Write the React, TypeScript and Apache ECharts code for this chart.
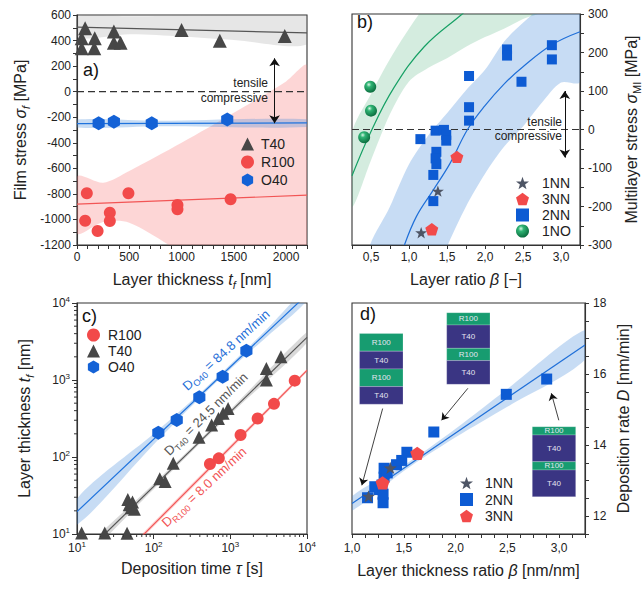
import React, { useEffect, useRef } from "react";
import * as echarts from "echarts";

const FONT = '"Liberation Sans", Arial, Helvetica, sans-serif';
const INK = "#222";
const AXIS = "#333";

// marker outlines
const HEX = "path://M0,-10L8.66,-5L8.66,5L0,10L-8.66,5L-8.66,-5Z";
const STAR =
  "path://M0,-10L2.35,-3.24L9.51,-3.09L3.8,1.24L5.88,8.09L0,4L-5.88,8.09L-3.8,1.24L-9.51,-3.09L-2.35,-3.24Z";
const PENT = "path://M0,-10L9.51,-3.09L5.88,8.09L-5.88,8.09L-9.51,-3.09Z";

// ---------- (a) film stress vs layer thickness ----------
const aT40 = [[45, 418], [45, 340], [78, 496], [170, 418], [165, 340], [353, 470], [353, 383], [417, 383], [1000, 483], [1366, 399], [1987, 436]];
const aR100 = [[94, -795], [78, -1010], [197, -1090], [314, -947], [314, -1012], [492, -795], [961, -887], [961, -920], [1469, -842]];
const aO40 = [[207, -247], [353, -235], [715, -247], [1437, -218]];
const aFitX = [0, 2200];
const aFitT40 = [505, 460];
const aFitR100 = [-880, -810];
const aFitO40 = [-250, -245];
const aBandT40X = [0, 500, 1000, 1500, 2200];
const aBandT40Lo = [425, 450, 432, 405, 370];
const aBandT40Hi = [585, 590, 595, 600, 610];
const aBandR100X = [0, 250, 500, 1000, 1500, 2000, 2200];
const aBandR100Lo = [-1108, -1020, -1025, -1260, -1500, -1800, -1950];
const aBandR100Hi = [-665, -712, -620, -400, -165, 80, 200];
const aBandO40X = [0, 800, 2200];
const aBandO40Lo = [-280, -270, -276];
const aBandO40Hi = [-218, -228, -215];
const aZeroX = [0, 2200];

// ---------- (b) multilayer stress vs layer ratio ----------
const b1NN = [[1.38, -160], [1.16, -268]];
const b3NN = [[1.63, -71], [1.3, -259]];
const b2NN = [[1.15, -25], [1.35, -3], [1.46, -1], [1.49, -14], [1.49, -29], [1.36, -58], [1.35, -75], [1.36, -90], [1.32, -118], [1.32, -186], [1.79, 139], [1.79, 58], [1.79, 23], [2.29, 208], [2.29, 192], [2.48, 124], [2.88, 219], [2.88, 182]];
const b1NO = [[0.49, 111], [0.5, 49], [0.41, -20]];
const bFitNNX = [0.94, 1.1, 1.31, 1.54, 1.77, 2.0, 2.25, 2.5, 2.88, 3.25];
const bFitNNY = [-300, -225, -160, -88, 0, 62, 118, 163, 220, 254];
const bFitNOX = [0.25, 0.5, 0.8, 1.2, 1.7, 1.8];
const bFitNOY = [-120, -5, 108, 215, 300, 318];
const bBandNNX = [0.45, 0.75, 1.0, 1.25, 1.5, 1.75, 2.0, 2.25, 2.5, 2.75, 3.0, 3.25];
const bBandNNLo = [-900, -700, -560, -430, -305, -200, -115, -45, 8, 70, 122, 124];
const bBandNNHi = [-330, -200, -90, -16, 42, 102, 155, 228, 277, 320, 360, 400];
const bBandNOX = [0.25, 0.5, 0.75, 1.0, 1.25, 1.5, 1.75, 2.0, 2.25, 2.5, 2.75];
const bBandNOLo = [-200, -80, 40, 125, 160, 185, 215, 240, 262, 287, 312];
const bBandNOHi = [-10, 92, 183, 262, 330, 380, 430, 480, 520, 560, 600];
const bZeroX = [0.25, 3.25];

// ---------- (c) layer thickness vs deposition time ----------
const rateO40 = 84.8;
const rateT40 = 24.5;
const rateR100 = 8.0;
const cR100 = [[542, 81], [708, 96], [1360, 193], [2270, 316], [3710, 490], [6920, 980]];
const cT40 = [[11.5, 10.3], [23, 10.3], [45, 10.2], [46, 28], [48, 24], [51, 22], [53, 26], [56, 21], [120, 52], [141, 48], [180, 83], [390, 181], [570, 260], [700, 316], [805, 369], [935, 427], [2950, 1000], [2950, 1410], [4570, 2000]];
const cO40 = [[115, 207], [200, 302], [394, 596], [794, 1100], [1620, 2400]];
const cFitX = [10, 10000];
const cFitO40 = [19.5, 12900];
const cFitT40 = [4.46, 3570];
const cFitR100 = [1.33, 1333];
const cBandO40X = [10, 100, 400, 1000, 3000, 10000];
const cBandO40Lo = [13.2, 145, 583, 1380, 3654, 10750];
const cBandO40Hi = [28.8, 200, 670, 1587, 4600, 15480];
const cBandT40X = [10, 100, 1000, 10000];
const cBandT40Lo = [3.9, 38.2, 358, 3050];
const cBandT40Hi = [5.1, 44.9, 412, 4190];
const cBandR100X = [10, 10000];
const cBandR100Lo = [1.27, 1273];
const cBandR100Hi = [1.4, 1396];
const cDecades = [10, 100, 1000];
const cMinorSteps = [2, 3, 4, 5, 6, 7, 8, 9];

// ---------- (d) deposition rate vs layer thickness ratio ----------
const d1NN = [[1.16, 12.56], [1.37, 13.36]];
const d2NN = [[1.15, 12.52], [1.22, 12.83], [1.26, 12.75], [1.3, 12.38], [1.3, 12.62], [1.29, 12.88], [1.31, 13.1], [1.31, 13.35], [1.34, 13.22], [1.43, 13.45], [1.48, 13.57], [1.53, 13.8], [1.79, 14.37], [2.49, 15.43], [2.88, 15.86]];
const d3NN = [[1.295, 12.94], [1.63, 13.77]];
const dFitX = [1.0, 3.25];
const dFitY = [12.36, 16.82];
const dBandX = [1.0, 1.5, 2.0, 2.5, 3.25];
const dBandLo = [12.16, 13.27, 14.22, 15.08, 16.4];
const dBandHi = [12.56, 13.43, 14.46, 15.58, 17.24];
const stackLayers = ["R100", "T40", "R100", "T40"];

const C_T40 = "#474747";
const C_R100 = "#f24a4a";
const C_O40 = "#1462d6";
const C_2NN = "#0d5bd3";
const C_STAR = "#4e5565";
const C_GREEN = "#17a065";
const LAYER_R = "#179c70";
const LAYER_T = "#3a3583";

const SPHERE = {
  type: "radial",
  x: 0.38,
  y: 0.32,
  r: 0.7,
  colorStops: [
    { offset: 0, color: "#d8f5e4" },
    { offset: 0.3, color: "#2fb474" },
    { offset: 1, color: "#0a6b3d" },
  ],
};

const zip = (xs: number[], ys: number[]) => xs.map((x, i) => [x, ys[i]]);

function scatter(name: string, gi: number, data: any, symbol: string, size: any, color: any) {
  return {
    type: "scatter",
    name,
    xAxisIndex: gi,
    yAxisIndex: gi,
    data,
    symbol,
    symbolSize: size,
    symbolKeepAspect: true,
    itemStyle: { color, opacity: 1 },
    z: 5,
    silent: true,
  };
}

function fitLine(name: string, gi: number, xs: number[], ys: number[], color: string, smooth: any = false, extra: any = {}) {
  return {
    type: "line",
    name,
    xAxisIndex: gi,
    yAxisIndex: gi,
    data: zip(xs, ys),
    symbol: "none",
    smooth,
    clip: true,
    lineStyle: { color, width: 1.2 },
    z: 4,
    silent: true,
    ...extra,
  };
}

// confidence band: polygon between the lower and upper edges, clipped to the grid
function band(gi: number, xs: number[], lo: number[], hi: number[], color: string, smooth = 0.3) {
  return {
    type: "custom",
    xAxisIndex: gi,
    yAxisIndex: gi,
    clip: true,
    silent: true,
    z: 1,
    data: xs.map((x, i) => [x, lo[i], hi[i]]),
    encode: { x: 0, y: [1, 2] },
    renderItem: (params: any, api: any) => {
      if (params.dataIndex !== 0) return null;
      const up = xs.map((x, i) => api.coord([x, hi[i]]));
      const dn = xs.map((x, i) => api.coord([x, lo[i]])).reverse();
      const cs = params.coordSys;
      return {
        type: "polygon",
        shape: { points: up.concat(dn), smooth },
        style: { fill: color },
        clipPath: { type: "rect", shape: { x: cs.x, y: cs.y, width: cs.width, height: cs.height } },
      };
    },
  };
}

function minorTicks(gi: number, values: number[], vertical: boolean) {
  return {
    type: "custom",
    xAxisIndex: gi,
    yAxisIndex: gi,
    clip: false,
    silent: true,
    z: 6,
    data: values.map((v) => (vertical ? [v, 10] : [10, v])),
    renderItem: (_p: any, api: any) => {
      const p = vertical ? api.coord([api.value(0), 10]) : api.coord([10, api.value(1)]);
      return {
        type: "line",
        shape: vertical
          ? { x1: p[0], y1: p[1], x2: p[0], y2: p[1] + 3 }
          : { x1: p[0], y1: p[1], x2: p[0] - 3, y2: p[1] },
        style: { stroke: AXIS, lineWidth: 1 },
      };
    },
  };
}

const nameRich = {
  i: { fontSize: 16, fontStyle: "italic", fontFamily: FONT, color: INK, lineHeight: 22 },
  s: { fontSize: 11, fontFamily: FONT, color: INK, verticalAlign: "bottom", lineHeight: 13 },
  si: { fontSize: 11, fontStyle: "italic", fontFamily: FONT, color: INK, verticalAlign: "bottom", lineHeight: 13 },
};

function axisBase(gi: number, extra: any) {
  return {
    gridIndex: gi,
    type: "value",
    nameLocation: "middle",
    nameTextStyle: { fontSize: 16, fontFamily: FONT, color: INK, lineHeight: 22, rich: nameRich },
    axisLine: { show: true, onZero: false, lineStyle: { color: AXIS, width: 1.1 } },
    axisTick: { show: true, inside: false, length: 4, lineStyle: { color: AXIS, width: 1 } },
    splitLine: { show: false },
    axisLabel: { color: INK, fontSize: 12, fontFamily: FONT, margin: 6 },
    ...extra,
  };
}

const comma = (v: number) => v.toFixed(1).replace(".", ",");
const powLabel = (v: number) => "10{e|" + Math.round(Math.log10(v)) + "}";
const powRich = {
  e: { fontSize: 8, fontFamily: FONT, color: INK, verticalAlign: "top", lineHeight: 8 },
};

function legend(left: number, top: number, gap: number, textPad: number, items: any[]) {
  return {
    orient: "vertical",
    left,
    top,
    padding: 0,
    itemGap: gap,
    itemWidth: 13,
    itemHeight: 13,
    selectedMode: false,
    textStyle: { fontSize: 14, fontFamily: FONT, color: INK, lineHeight: 14, padding: [0, 0, 0, textPad] },
    data: items,
  };
}

function inset(x: number, y: number, w: number, hs: number[]) {
  const children: any[] = [];
  let cy = 0;
  hs.forEach((h, i) => {
    const isR = stackLayers[i] === "R100";
    children.push({
      type: "rect",
      shape: { x: 0, y: cy, width: w, height: h },
      style: { fill: isR ? LAYER_R : LAYER_T, stroke: "rgba(255,255,255,0.35)", lineWidth: 0.6 },
    });
    children.push({
      type: "text",
      x: w / 2,
      y: cy + h / 2,
      style: {
        text: stackLayers[i],
        fill: "#e4e4f0",
        fontSize: 8,
        fontFamily: FONT,
        align: "center",
        verticalAlign: "middle",
      },
    });
    cy += h;
  });
  return { type: "group", x, y, z: 60, children };
}

function label(text: string, x: number, y: number, extra: any = {}) {
  return {
    type: "text",
    x,
    y,
    z: 60,
    style: { text, fill: INK, fontSize: 12, fontFamily: FONT, align: "right", verticalAlign: "middle", ...extra },
  };
}

function rateLabel(sub: string, rate: number, color: string, x: number, y: number, rotation: number) {
  return {
    type: "text",
    x,
    y,
    rotation,
    z: 60,
    style: {
      text: "{b|D}{s|" + sub + "}{b| = " + rate.toFixed(1) + " nm/min}",
      fill: color,
      fontSize: 13,
      fontFamily: FONT,
      align: "center",
      verticalAlign: "middle",
      rich: {
        b: { fontSize: 13, fontFamily: FONT, lineHeight: 18, verticalAlign: "middle", fill: color },
        s: { fontSize: 9, fontFamily: FONT, verticalAlign: "bottom", lineHeight: 10, fill: color },
      },
    },
  };
}

function buildOption() {
  const arrowLine = (pairs: number[][][], both: boolean, width = 1) => ({
    silent: true,
    symbol: both ? ["arrow", "arrow"] : ["none", "arrow"],
    symbolSize: both ? 8 : 7,
    label: { show: false },
    lineStyle: { color: "#111", width, type: "solid" },
    data: pairs.map(([p, q]) => [{ coord: p }, { coord: q }]),
  });

  const cMinor = cDecades.flatMap((d) => cMinorSteps.map((m) => d * m));

  return {
    animation: false,
    backgroundColor: "#fff",
    textStyle: { fontFamily: FONT },
    grid: [
      { left: 77, top: 15, width: 230, height: 230, show: true, borderColor: AXIS, borderWidth: 1.1 },
      { left: 352, top: 14, width: 230, height: 231, show: true, borderColor: AXIS, borderWidth: 1.1 },
      { left: 77, top: 303, width: 230, height: 231, show: true, borderColor: AXIS, borderWidth: 1.1 },
      { left: 352, top: 303, width: 233, height: 231, show: true, borderColor: AXIS, borderWidth: 1.1 },
    ],
    xAxis: [
      axisBase(0, {
        min: 0,
        max: 2200,
        interval: 100,
        name: "Layer thickness {i|t}{si|f} [nm]",
        nameGap: 23,
        axisLabel: { color: INK, fontSize: 12, fontFamily: FONT, margin: 6, formatter: (v: number) => (v % 500 === 0 ? String(v) : "") },
      }),
      axisBase(1, {
        min: 0.25,
        max: 3.25,
        interval: 0.25,
        name: "Layer ratio {i|β} [−]",
        nameGap: 23,
        axisLabel: {
          color: INK, fontSize: 12, fontFamily: FONT, margin: 6,
          formatter: (v: number) => (Math.round(v * 4) % 2 === 0 ? comma(v) : ""),
        },
      }),
      axisBase(2, {
        type: "log",
        logBase: 10,
        min: 10,
        max: 10000,
        name: "Deposition time {i|τ} [s]",
        nameGap: 23,
        axisTick: { show: true, inside: false, length: 5, lineStyle: { color: AXIS } },
        axisLabel: { color: INK, fontSize: 12, fontFamily: FONT, margin: 6, lineHeight: 16, formatter: powLabel, rich: powRich },
      }),
      axisBase(3, {
        min: 1,
        max: 3.25,
        interval: 0.125,
        name: "Layer thickness ratio {i|β} [nm/nm]",
        nameGap: 25,
        axisLabel: {
          color: INK, fontSize: 12, fontFamily: FONT, margin: 8,
          formatter: (v: number) => (Math.round(v * 8) % 4 === 0 ? comma(v) : ""),
        },
      }),
    ],
    yAxis: [
      axisBase(0, {
        min: -1200,
        max: 600,
        interval: 100,
        name: "Film stress {i|σ}{si|f} [MPa]",
        nameRotate: 90,
        nameGap: 46,
        axisLabel: { color: INK, fontSize: 12, fontFamily: FONT, margin: 6, formatter: (v: number) => (v % 200 === 0 ? String(v) : "") },
      }),
      axisBase(1, {
        position: "right",
        min: -300,
        max: 300,
        interval: 50,
        name: "Multilayer stress {i|σ}{s|MI} [MPa]",
        nameRotate: 90,
        nameGap: 40,
        axisLabel: { color: INK, fontSize: 12, fontFamily: FONT, margin: 8, formatter: (v: number) => (v % 100 === 0 ? String(v) : "") },
      }),
      axisBase(2, {
        type: "log",
        logBase: 10,
        min: 10,
        max: 10000,
        name: "Layer thickness {i|t}{si|f} [nm]",
        nameRotate: 90,
        nameGap: 42,
        axisTick: { show: true, inside: false, length: 5, lineStyle: { color: AXIS } },
        axisLabel: { color: INK, fontSize: 12, fontFamily: FONT, margin: 7, lineHeight: 16, formatter: powLabel, rich: powRich },
      }),
      axisBase(3, {
        position: "right",
        min: 11.5,
        max: 18,
        interval: 0.5,
        name: "Deposition rate {i|D} [nm/min]",
        nameRotate: 90,
        nameGap: 27,
        axisLabel: { color: INK, fontSize: 12, fontFamily: FONT, margin: 8, formatter: (v: number) => (v % 2 === 0 ? String(v) : "") },
      }),
    ],
    legend: [
      legend(241, 137, 4, 2, [
        { name: "T40", icon: "triangle" },
        { name: "R100", icon: "circle" },
        { name: "O40", icon: HEX },
      ]),
      legend(516, 176, 2, 8, [
        { name: "1NN", icon: STAR },
        { name: "3NN", icon: PENT },
        { name: "2NN", icon: "rect" },
        { name: "1NO", icon: "circle" },
      ]),
      legend(87, 328, 2, 3, [
        { name: "R100", icon: "circle" },
        { name: "T40", icon: "triangle" },
        { name: "O40", icon: HEX },
      ]),
      legend(460, 476, 2.5, 7, [
        { name: "1NN", icon: STAR },
        { name: "2NN", icon: "rect" },
        { name: "3NN", icon: PENT },
      ]),
    ],
    series: [
      // (a)
      band(0, aBandT40X, aBandT40Lo, aBandT40Hi, "rgba(128,128,128,0.2)"),
      band(0, aBandR100X, aBandR100Lo, aBandR100Hi, "rgba(250,120,120,0.3)"),
      band(0, aBandO40X, aBandO40Lo, aBandO40Hi, "rgba(70,140,220,0.3)"),
      fitLine("a-zero", 0, aZeroX, [0, 0], "#333", false, {
        lineStyle: { color: "#333", width: 1.2, type: [7, 4] },
        markLine: arrowLine([[[1890, 261], [1890, -247]]], true),
      }),
      fitLine("a-T40 fit", 0, aFitX, aFitT40, "#555"),
      fitLine("a-R100 fit", 0, aFitX, aFitR100, "#f25555"),
      fitLine("a-O40 fit", 0, aFitX, aFitO40, "#1f73dd"),
      scatter("T40", 0, aT40, "triangle", 14, C_T40),
      scatter("R100", 0, aR100, "circle", 12, C_R100),
      scatter("O40", 0, aO40, HEX, 14, C_O40),

      // (b)
      band(1, bBandNOX, bBandNOLo, bBandNOHi, "rgba(60,170,110,0.22)"),
      band(1, bBandNNX, bBandNNLo, bBandNNHi, "rgba(70,140,220,0.3)"),
      fitLine("b-zero", 1, bZeroX, [0, 0], "#333", false, {
        lineStyle: { color: "#333", width: 1.2, type: [7, 4] },
        markLine: arrowLine([[[3.05, 100], [3.05, -73]]], true),
      }),
      fitLine("b-NO fit", 1, bFitNOX, bFitNOY, C_GREEN, 0.4),
      fitLine("b-NN fit", 1, bFitNNX, bFitNNY, "#1f6fd8", 0.4),
      scatter("2NN", 1, b2NN, "rect", 10, C_2NN),
      scatter("1NN", 1, b1NN, STAR, 12, C_STAR),
      scatter("3NN", 1, b3NN, PENT, 13, C_R100),
      scatter("1NO", 1, b1NO, "circle", 12, SPHERE),

      // (c)
      band(2, cBandO40X, cBandO40Lo, cBandO40Hi, "rgba(70,140,220,0.3)"),
      band(2, cBandT40X, cBandT40Lo, cBandT40Hi, "rgba(128,128,128,0.3)"),
      band(2, cBandR100X, cBandR100Lo, cBandR100Hi, "rgba(250,120,120,0.3)"),
      fitLine("c-O40 fit", 2, cFitX, cFitO40, "#1f73dd"),
      fitLine("c-T40 fit", 2, cFitX, cFitT40, "#555"),
      fitLine("c-R100 fit", 2, cFitX, cFitR100, "#f25555"),
      scatter("R100", 2, cR100, "circle", 12, C_R100),
      scatter("T40", 2, cT40, "triangle", 13, C_T40),
      scatter("O40", 2, cO40, HEX, 14, C_O40),
      minorTicks(2, cMinor, true),
      minorTicks(2, cMinor, false),

      // (d)
      band(3, dBandX, dBandLo, dBandHi, "rgba(70,140,220,0.3)"),
      fitLine("d-fit line", 3, dFitX, dFitY, "#1f6fd8", false, {
        markLine: arrowLine(
          [
            [[1.296, 15.03], [1.095, 12.87]],
            [[2.119, 15.6], [1.865, 14.7]],
            [[2.997, 14.7], [2.925, 15.46]],
          ],
          false,
          0.8
        ),
      }),
      scatter("2NN", 3, d2NN, "rect", 11, C_2NN),
      scatter("1NN", 3, d1NN, STAR, 13, C_STAR),
      scatter("3NN", 3, d3NN, PENT, 14, C_R100),
    ],
    graphic: [
      { type: "text", x: 83, y: 70, z: 60, style: { text: "a)", fill: "#111", fontSize: 18, fontFamily: FONT, verticalAlign: "middle" } },
      { type: "text", x: 357, y: 22, z: 60, style: { text: "b)", fill: "#111", fontSize: 18, fontFamily: FONT, verticalAlign: "middle" } },
      { type: "text", x: 82, y: 316, z: 60, style: { text: "c)", fill: "#111", fontSize: 18, fontFamily: FONT, verticalAlign: "middle" } },
      { type: "text", x: 360, y: 314, z: 60, style: { text: "d)", fill: "#111", fontSize: 18, fontFamily: FONT, verticalAlign: "middle" } },
      label("tensile", 268, 83),
      label("compressive", 268, 98),
      label("tensile", 562, 122),
      label("compressive", 562, 136),
      rateLabel("O40", rateO40, "#1f6fd8", 226, 350, 0.74),
      rateLabel("T40", rateT40, "#555", 206, 414, 0.78),
      rateLabel("R100", rateR100, "#f25555", 204, 487, 0.75),
      inset(359.5, 333.5, 43.5, [17.7, 17.7, 17.7, 17.6]),
      inset(446.7, 312.7, 43.3, [12.3, 23.3, 12.3, 23.7]),
      inset(532.3, 426.7, 43.4, [8.3, 26.7, 8.3, 26.7]),
    ],
  };
}

export default function App() {
  const ref = useRef<HTMLDivElement>(null);
  useEffect(() => {
    if (!ref.current) return;
    const chart = echarts.init(ref.current, undefined, { renderer: "svg" });
    chart.setOption(buildOption() as any);
    return () => chart.dispose();
  }, []);
  return (
    <div
      ref={ref}
      style={{ position: "absolute", left: 0, top: 0, width: 643, height: 590, background: "#fff" }}
    />
  );
}
